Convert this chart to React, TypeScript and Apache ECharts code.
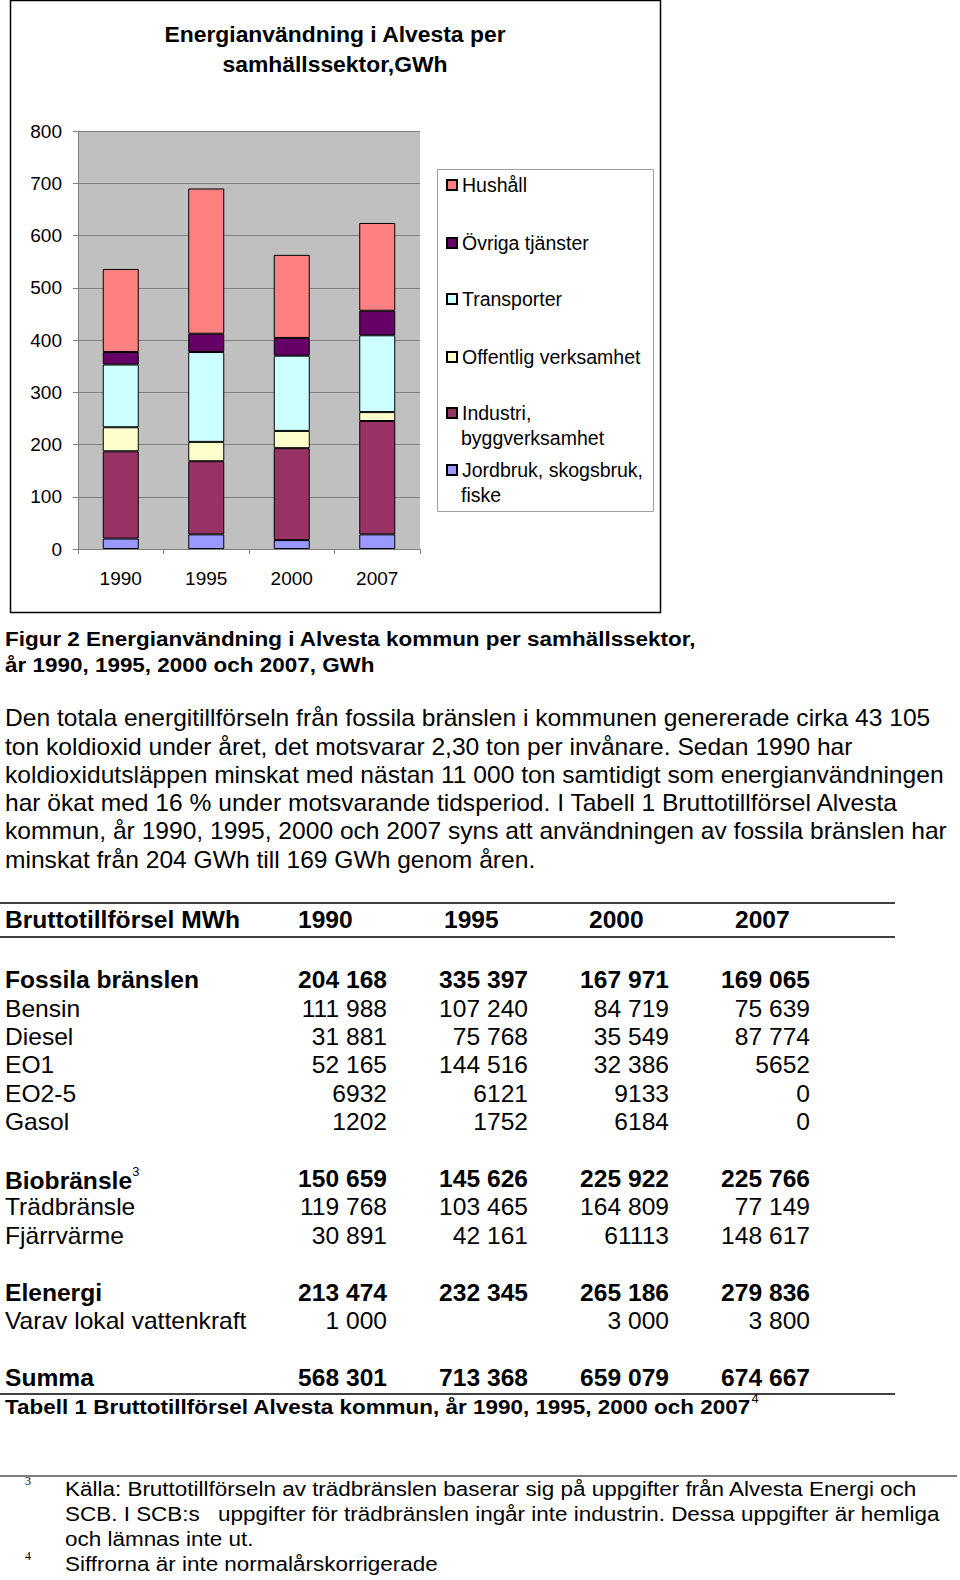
import React, { useEffect, useRef } from 'react';
import * as echarts from 'echarts';

const FONT = "'Liberation Sans', Arial, Helvetica, sans-serif";

// ---- Chart data ----
const years = ['1990', '1995', '2000', '2007'];
const yTicks = { min: 0, max: 800, interval: 100 };
const jordbruk = [20, 28, 17, 28];
const industri = [167, 140, 176, 217];
const offentlig = [46, 37, 33, 17];
const transporter = [120, 172, 144, 147];
const ovriga = [24, 35, 34, 47];
const hushall = [159, 278, 159, 168];

const sectorNames = [
  'Jordbruk, skogsbruk, fiske',
  'Industri, byggverksamhet',
  'Offentlig verksamhet',
  'Transporter',
  'Övriga tjänster',
  'Hushåll',
];
const sectorColors = ['#9999FF', '#993366', '#FFFFCC', '#CCFFFF', '#660066', '#FF8080'];
const sectorValues = [jordbruk, industri, offentlig, transporter, ovriga, hushall];
// legend lines (first line, second line) shown top to bottom
const legendOrder = [5, 4, 3, 2, 1, 0];
const legendLines: string[][] = [
  ['Jordbruk, skogsbruk,', 'fiske'],
  ['Industri,', 'byggverksamhet'],
  ['Offentlig verksamhet'],
  ['Transporter'],
  ['Övriga tjänster'],
  ['Hushåll'],
];

const chartTitle = ['Energianvändning i Alvesta per', 'samhällssektor,GWh'];

// ---- Text data ----
const figureCaption = [
  'Figur 2 Energianvändning i Alvesta kommun per samhällssektor,',
  'år 1990, 1995, 2000 och 2007, GWh',
];
const paragraph = [
  'Den totala energitillförseln från fossila bränslen i kommunen genererade cirka 43 105',
  'ton koldioxid under året, det motsvarar 2,30 ton per invånare. Sedan 1990 har',
  'koldioxidutsläppen minskat med nästan 11 000 ton samtidigt som energianvändningen',
  'har ökat med 16 % under motsvarande tidsperiod. I Tabell 1 Bruttotillförsel Alvesta',
  'kommun, år 1990, 1995, 2000 och 2007 syns att användningen av fossila bränslen har',
  'minskat från 204 GWh till 169 GWh genom åren.',
];

// ---- Table data ----
const tableHeader = ['Bruttotillförsel MWh', '1990', '1995', '2000', '2007'];
const rowLabels = [
  'Fossila bränslen', 'Bensin', 'Diesel', 'EO1', 'EO2-5', 'Gasol', '',
  'Biobränsle', 'Trädbränsle', 'Fjärrvärme', '',
  'Elenergi', 'Varav lokal vattenkraft', '',
  'Summa',
];
const rowBold = [true, false, false, false, false, false, false, true, false, false, false, true, false, false, true];
const rowSup = ['', '', '', '', '', '', '', '3', '', '', '', '', '', '', ''];
const col1990 = ['204 168', '111 988', '31 881', '52 165', '6932', '1202', '', '150 659', '119 768', '30 891', '', '213 474', '1 000', '', '568 301'];
const col1995 = ['335 397', '107 240', '75 768', '144 516', '6121', '1752', '', '145 626', '103 465', '42 161', '', '232 345', '', '', '713 368'];
const col2000 = ['167 971', '84 719', '35 549', '32 386', '9133', '6184', '', '225 922', '164 809', '61113', '', '265 186', '3 000', '', '659 079'];
const col2007 = ['169 065', '75 639', '87 774', '5652', '0', '0', '', '225 766', '77 149', '148 617', '', '279 836', '3 800', '', '674 667'];
const tableCaption = 'Tabell 1 Bruttotillförsel Alvesta kommun, år 1990, 1995, 2000 och 2007';
const tableCaptionSup = '4';

const footnotes = [
  { mark: '3', lines: ['Källa: Bruttotillförseln av trädbränslen baserar sig på uppgifter från Alvesta Energi och', 'SCB. I SCB:s|uppgifter för trädbränslen ingår inte industrin. Dessa uppgifter är hemliga', 'och lämnas inte ut.'] },
  { mark: '4', lines: ['Siffrorna är inte normalårskorrigerade'] },
];

const SX = 1.07; // horizontal stretch of the document text

function txt(text: string, x: number, y: number, size: number, opts: any = {}) {
  return {
    type: 'text',
    x,
    y,
    z: 10,
    scaleX: opts.sx ?? SX,
    style: {
      text,
      fontFamily: FONT,
      fontSize: size,
      fontWeight: opts.bold ? 'bold' : 'normal',
      fill: opts.fill || '#000',
      align: opts.align || 'left',
      verticalAlign: 'middle',
      ...(opts.rich ? { rich: opts.rich } : {}),
    },
  };
}

function line(x1: number, y1: number, x2: number, y2: number, w: number, color = '#000') {
  return { type: 'line', z: 5, shape: { x1, y1, x2, y2 }, style: { stroke: color, lineWidth: w } };
}

export default function App() {
  const ref = useRef<HTMLDivElement>(null);

  useEffect(() => {
    if (!ref.current) return;
    const chart = echarts.init(ref.current, undefined, { renderer: 'svg' });

    const elements: any[] = [];
    // chart frame
    elements.push({ type: 'rect', z: 0, shape: { x: 10.5, y: 0.5, width: 650, height: 612 }, style: { fill: 'none', stroke: '#000', lineWidth: 1.5 } });
    // legend box
    elements.push({ type: 'rect', z: 0, shape: { x: 437.5, y: 169.5, width: 216, height: 342 }, style: { fill: '#fff', stroke: '#a0a0a0', lineWidth: 1 } });

    // chart title
    chartTitle.forEach((t, i) => elements.push(txt(t, 335, 35 + i * 30, 22, { bold: true, align: 'center', sx: 1.04 })));

    // legend second lines
    const legendTop = [185, 243, 299, 357, 413, 470];
    legendOrder.forEach((si, k) => {
      const ls = legendLines[si];
      if (ls.length > 1) elements.push(txt(ls[1], 461, legendTop[k] + 25, 19.5, { sx: 1 }));
    });

    // figure caption
    figureCaption.forEach((t, i) => elements.push(txt(t, 5, 639 + i * 26, 21, { bold: true })));
    // paragraph
    paragraph.forEach((t, i) => elements.push(txt(t, 5, 718 + i * 28.3, 23)));

    // table
    elements.push(line(0, 903, 895, 903, 1.5));
    elements.push(line(0, 937, 895, 937, 1.5));
    const headerX = [5, 298, 444, 589, 735];
    tableHeader.forEach((h, i) => elements.push(txt(h, headerX[i], 920, 23, { bold: true })));
    const colRight = [387, 528, 669, 810];
    const cols = [col1990, col1995, col2000, col2007];
    rowLabels.forEach((lab, r) => {
      if (!lab) return;
      const y = 980 + r * 28.4;
      const bold = rowBold[r];
      if (rowSup[r]) {
        elements.push(txt(`{m|${lab}}{s|${rowSup[r]}}`, 5, y, 23, {
          bold,
          rich: {
            m: { fontFamily: FONT, fontSize: 23, fontWeight: bold ? 'bold' : 'normal', lineHeight: 26, verticalAlign: 'bottom' },
            s: { fontFamily: FONT, fontSize: 12, fontWeight: 'normal', lineHeight: 26, verticalAlign: 'top' },
          },
        }));
      } else {
        elements.push(txt(lab, 5, y, 23, { bold }));
      }
      cols.forEach((c, ci) => {
        if (c[r]) elements.push(txt(c[r], colRight[ci], y, 23, { bold, align: 'right' }));
      });
    });
    elements.push(line(0, 1394, 895, 1394, 1.5));
    elements.push(txt(`{m|${tableCaption}}{s|${tableCaptionSup}}`, 5, 1405, 21, {
      bold: true,
      rich: {
        m: { fontFamily: FONT, fontSize: 21, fontWeight: 'bold', lineHeight: 24, verticalAlign: 'bottom' },
        s: { fontFamily: FONT, fontSize: 12, fontWeight: 'normal', lineHeight: 24, verticalAlign: 'top' },
      },
    }));

    // footnotes
    elements.push(line(0, 1476, 957, 1476, 1, '#000'));
    let fy = 1489;
    footnotes.forEach((f) => {
      elements.push({ type: 'text', x: 25, y: fy - 8, z: 10, style: { text: f.mark, fontFamily: "'Liberation Serif', serif", fontSize: 12, fill: '#000', verticalAlign: 'middle' } });
      f.lines.forEach((l) => {
        const parts = l.split('|');
        elements.push(txt(parts[0], 65, fy, 21));
        if (parts[1]) elements.push(txt(parts[1], 218, fy, 21));
        fy += 25;
      });
    });

    const legends = legendOrder.map((si, k) => ({
      data: [sectorNames[si]],
      left: 446,
      top: legendTop[k] - 10,
      padding: 0,
      orient: 'vertical',
      icon: 'rect',
      itemWidth: 10,
      itemHeight: 10,
      selectedMode: false,
      formatter: () => legendLines[si][0],
      textStyle: { fontFamily: FONT, fontSize: 19.5, color: '#000', lineHeight: 20 },
    }));

    chart.setOption({
      animation: false,
      backgroundColor: '#fff',
      textStyle: { fontFamily: FONT },
      grid: { left: 78, top: 131, width: 342, height: 418, show: true, backgroundColor: '#c0c0c0', borderWidth: 0 },
      legend: legends,
      xAxis: {
        type: 'category',
        data: years,
        axisLine: { lineStyle: { color: '#808080', width: 1 } },
        axisTick: { show: true, length: 5, lineStyle: { color: '#808080' } },
        axisLabel: { fontFamily: FONT, fontSize: 19, color: '#000', margin: 20 },
      },
      yAxis: {
        type: 'value',
        min: yTicks.min,
        max: yTicks.max,
        interval: yTicks.interval,
        axisLine: { show: true, lineStyle: { color: '#808080', width: 1 } },
        axisTick: { show: true, length: 5, lineStyle: { color: '#808080' } },
        axisLabel: { fontFamily: FONT, fontSize: 19, color: '#000', margin: 16 },
        splitLine: { show: true, lineStyle: { color: '#808080', width: 1 } },
      },
      series: sectorNames.map((name, i) => ({
        name,
        type: 'bar',
        stack: 'total',
        barWidth: 36,
        data: sectorValues[i],
        itemStyle: { color: sectorColors[i], borderColor: '#000', borderWidth: 1 },
      })),
      graphic: { elements },
    });

    return () => chart.dispose();
  }, []);

  return <div ref={ref} style={{ position: 'absolute', left: 0, top: 0, width: 960, height: 1580 }} />;
}
